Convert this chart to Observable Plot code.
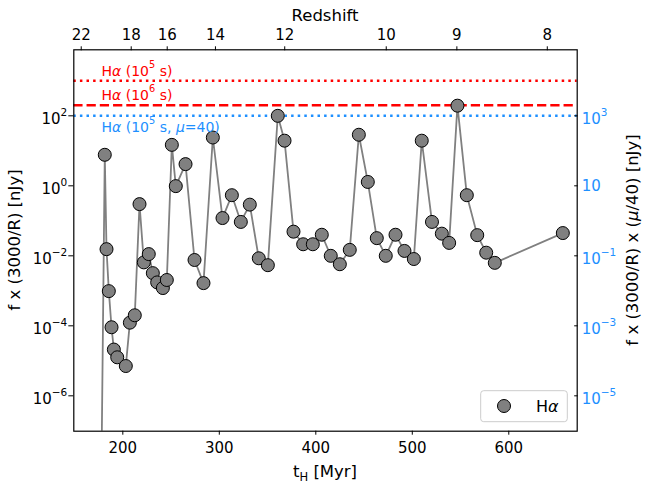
<!DOCTYPE html>
<html><head><meta charset="utf-8">
<script src="https://cdn.jsdelivr.net/npm/d3@7"></script>
<script src="https://cdn.jsdelivr.net/npm/@observablehq/plot@0.6"></script>
<style>body{margin:0;background:#fff} svg{font-family:"DejaVu Sans";}</style>
</head><body><div id="chart"></div>
<script>
// ---- data ----
const tH = [177.9, 181.3, 183.1, 185.5, 188.3, 190.7, 194.2, 203.1, 207.3, 212.4, 217.3, 221.8, 226.9, 231.1, 235.6, 241.5, 245.6, 250.8, 254.9, 265.0, 274.3, 283.6, 293.3, 303.3, 313.0, 322.3, 331.6, 340.9, 350.3, 360.6, 367.6, 376.9, 386.9, 396.9, 406.2, 415.5, 424.9, 435.2, 444.6, 453.9, 463.2, 472.5, 482.6, 491.9, 501.6, 509.8, 520.4, 530.6, 538.2, 546.8, 556.5, 567.3, 576.6, 585.5, 656.0];
const flux = [1e-8, 7.7, 0.0155, 9.8e-4, 9.1e-5, 2.1e-5, 1.26e-5, 7.1e-6, 1.23e-4, 2.0e-4, 0.30, 6.5e-3, 0.0112, 3.2e-3, 1.74e-3, 1.2e-3, 2.04e-3, 14.8, 0.98, 4.17, 7.6e-3, 1.66e-3, 24, 0.12, 0.54, 0.093, 0.29, 8.5e-3, 5.4e-3, 100, 19.5, 0.049, 0.0214, 0.0214, 0.04, 0.01, 5.75e-3, 0.0148, 28.8, 1.29, 0.032, 0.01, 0.04, 0.0138, 8.1e-3, 19.5, 0.093, 0.043, 0.0234, 195, 0.54, 0.039, 0.0123, 6.3e-3, 0.0447];

const refValues = [1000, 200, 100];
const refColors = ["red", "red", "#1e90ff"];
const refDash = ["2.5,4.1", "9.25,4", "2.5,4.1"];
const refLabels = ["H$α$ (10^{5} s)", "H$α$ (10^{6} s)", "H$α$ (10^{5} s, $μ$=40)"];
const refLabelX = [177.9, 177.9, 177.9];
const refLabelY = [1390, 286, 35];

const xTicks = [200, 300, 400, 500, 600];
const redshiftLabels = [22, 18, 16, 14, 12, 10, 9, 8];
const redshiftTimes = [156.9, 208.7, 246.0, 296.0, 367.8, 473.0, 546.2, 639.9];
const yTicks = [1e-6, 1e-4, 1e-2, 1, 1e2];
const yTickLabels = ["10^{−6}", "10^{−4}", "10^{−2}", "10^{0}", "10^{2}"];
const y2TickLabels = ["10^{−5}", "10^{−3}", "10^{−1}", "10", "10^{3}"];

// ---- build ----
const points = tH.map((t, i) => ({t, f: flux[i]}));
const zLabel = new Map(redshiftTimes.map((t, i) => [t, String(redshiftLabels[i])]));
const yLab = new Map(yTicks.map((v, i) => [v, yTickLabels[i]]));
const y2Lab = new Map(yTicks.map((v, i) => [v, y2TickLabels[i]]));

const W = 652, H = 488, mL = 73.3, mR = 75.3, mT = 49.3, mB = 57.3;

const marks = [];
refValues.forEach((v, i) => marks.push(Plot.ruleY([v], {stroke: refColors[i], strokeWidth: 2.5, strokeDasharray: refDash[i]})));
marks.push(Plot.line(points, {x: "t", y: "f", stroke: "#808080", strokeWidth: 1.8, clip: true}));
marks.push(Plot.dot(points, {x: "t", y: "f", r: 6.5, fill: "#808080", stroke: "black", strokeWidth: 1, clip: true}));
refLabels.forEach((s, i) => marks.push(Plot.text([s], {x: refLabelX[i], y: refLabelY[i], text: d => d, fill: refColors[i], textAnchor: "start", lineAnchor: "bottom", fontSize: 14})));
marks.push(Plot.axisX(xTicks, {anchor: "bottom", tickSize: 4, tickPadding: 7, label: null, fontSize: 15}));
marks.push(Plot.axisX(redshiftTimes, {anchor: "top", tickFormat: d => zLabel.get(d), tickSize: 4, tickPadding: 6, label: null, fontSize: 15}));
marks.push(Plot.axisY(yTicks, {anchor: "left", tickFormat: d => yLab.get(d), tickSize: 5, tickPadding: 1.5, label: null, fontSize: 15}));
marks.push(Plot.axisY(yTicks, {anchor: "right", tickFormat: d => y2Lab.get(d), tickSize: -3.5, tickPadding: 8, label: null, fontSize: 15, fill: "#1e90ff", stroke: "black"}));
marks.push(Plot.frame({stroke: "black", strokeWidth: 1.2}));

const svg = Plot.plot({
  width: W, height: H, marginLeft: mL, marginRight: mR, marginTop: mT, marginBottom: mB,
  style: {fontFamily: "DejaVu Sans", fontSize: "15px", background: "white", color: "black"},
  x: {domain: [149.2, 670.9]},
  y: {type: "log", domain: [9.75e-8, 7.7e3]},
  marks
});
document.getElementById("chart").appendChild(svg);

// ---- rich text (superscript/subscript/italic) ----
const NS = "http://www.w3.org/2000/svg";
function rich(el, str, baseShift = 0) {
  const fs = parseFloat(getComputedStyle(el).fontSize) || 15;
  el.textContent = "";
  const re = /\^\{([^}]*)\}|_\{([^}]*)\}|\$([^$]*)\$|([^^_$]+)/g;
  let m, cur = 0;
  while ((m = re.exec(str))) {
    const t = document.createElementNS(NS, "tspan");
    let target = baseShift, text;
    if (m[1] !== undefined) { target += -0.55 * fs; text = m[1]; t.setAttribute("font-size", 0.7 * fs); }
    else if (m[2] !== undefined) { target += 0.22 * fs; text = m[2]; t.setAttribute("font-size", 0.7 * fs); }
    else if (m[3] !== undefined) { text = m[3]; t.setAttribute("font-style", "italic"); }
    else text = m[4];
    const dy = target - cur;
    if (dy !== 0) t.setAttribute("dy", dy);
    cur = target;
    t.textContent = text;
    el.appendChild(t);
  }
}
svg.querySelectorAll("text").forEach(el => {
  const s = el.textContent;
  if (/\^\{|_\{|\$/.test(s)) {
    const g = el.closest("g[aria-label]");
    const isY = g && /y-axis tick label/.test(g.getAttribute("aria-label"));
    rich(el, s, isY ? 3.5 : 0);
  }
});

// ---- axis titles and legend ----
const sel = d3.select(svg);
const cx = mL + (W - mL - mR) / 2, cy = mT + (H - mT - mB) / 2;
const plotR = W - mR, plotB = H - mB;
function addText(str, x, y, opts = {}) {
  const t = sel.append("text")
    .attr("text-anchor", opts.anchor || "middle")
    .attr("font-size", opts.size || 16.5)
    .attr("fill", opts.fill || "black")
    .attr("transform", `translate(${x},${y})` + (opts.rotate ? ` rotate(${opts.rotate})` : ""));
  t.node().setAttribute("font-family", "DejaVu Sans");
  rich(t.node(), str);
  return t;
}
addText("t_{H} [Myr]", cx, plotB + 46.5);
addText("Redshift", cx, mT - 28.6);
addText("f x (3000/R) [nJy]", 19.5, cy, {rotate: -90});
addText("f x (3000/R) x ($μ$/40) [nJy]", plotR + 61.3, cy, {rotate: -90});

const lg = sel.append("g");
lg.append("rect").attr("x", plotR - 96).attr("y", plotB - 40).attr("width", 86.6).attr("height", 31)
  .attr("rx", 3).attr("fill", "white").attr("fill-opacity", 0.8).attr("stroke", "#cccccc");
lg.append("circle").attr("cx", plotR - 72.7).attr("cy", plotB - 24.7).attr("r", 6.5)
  .attr("fill", "#808080").attr("stroke", "black");
const lt = lg.append("text").attr("x", plotR - 40.7).attr("y", plotB - 18.7).attr("font-size", 16).attr("text-anchor", "start");
rich(lt.node(), "H$α$");
</script>
</body></html>
